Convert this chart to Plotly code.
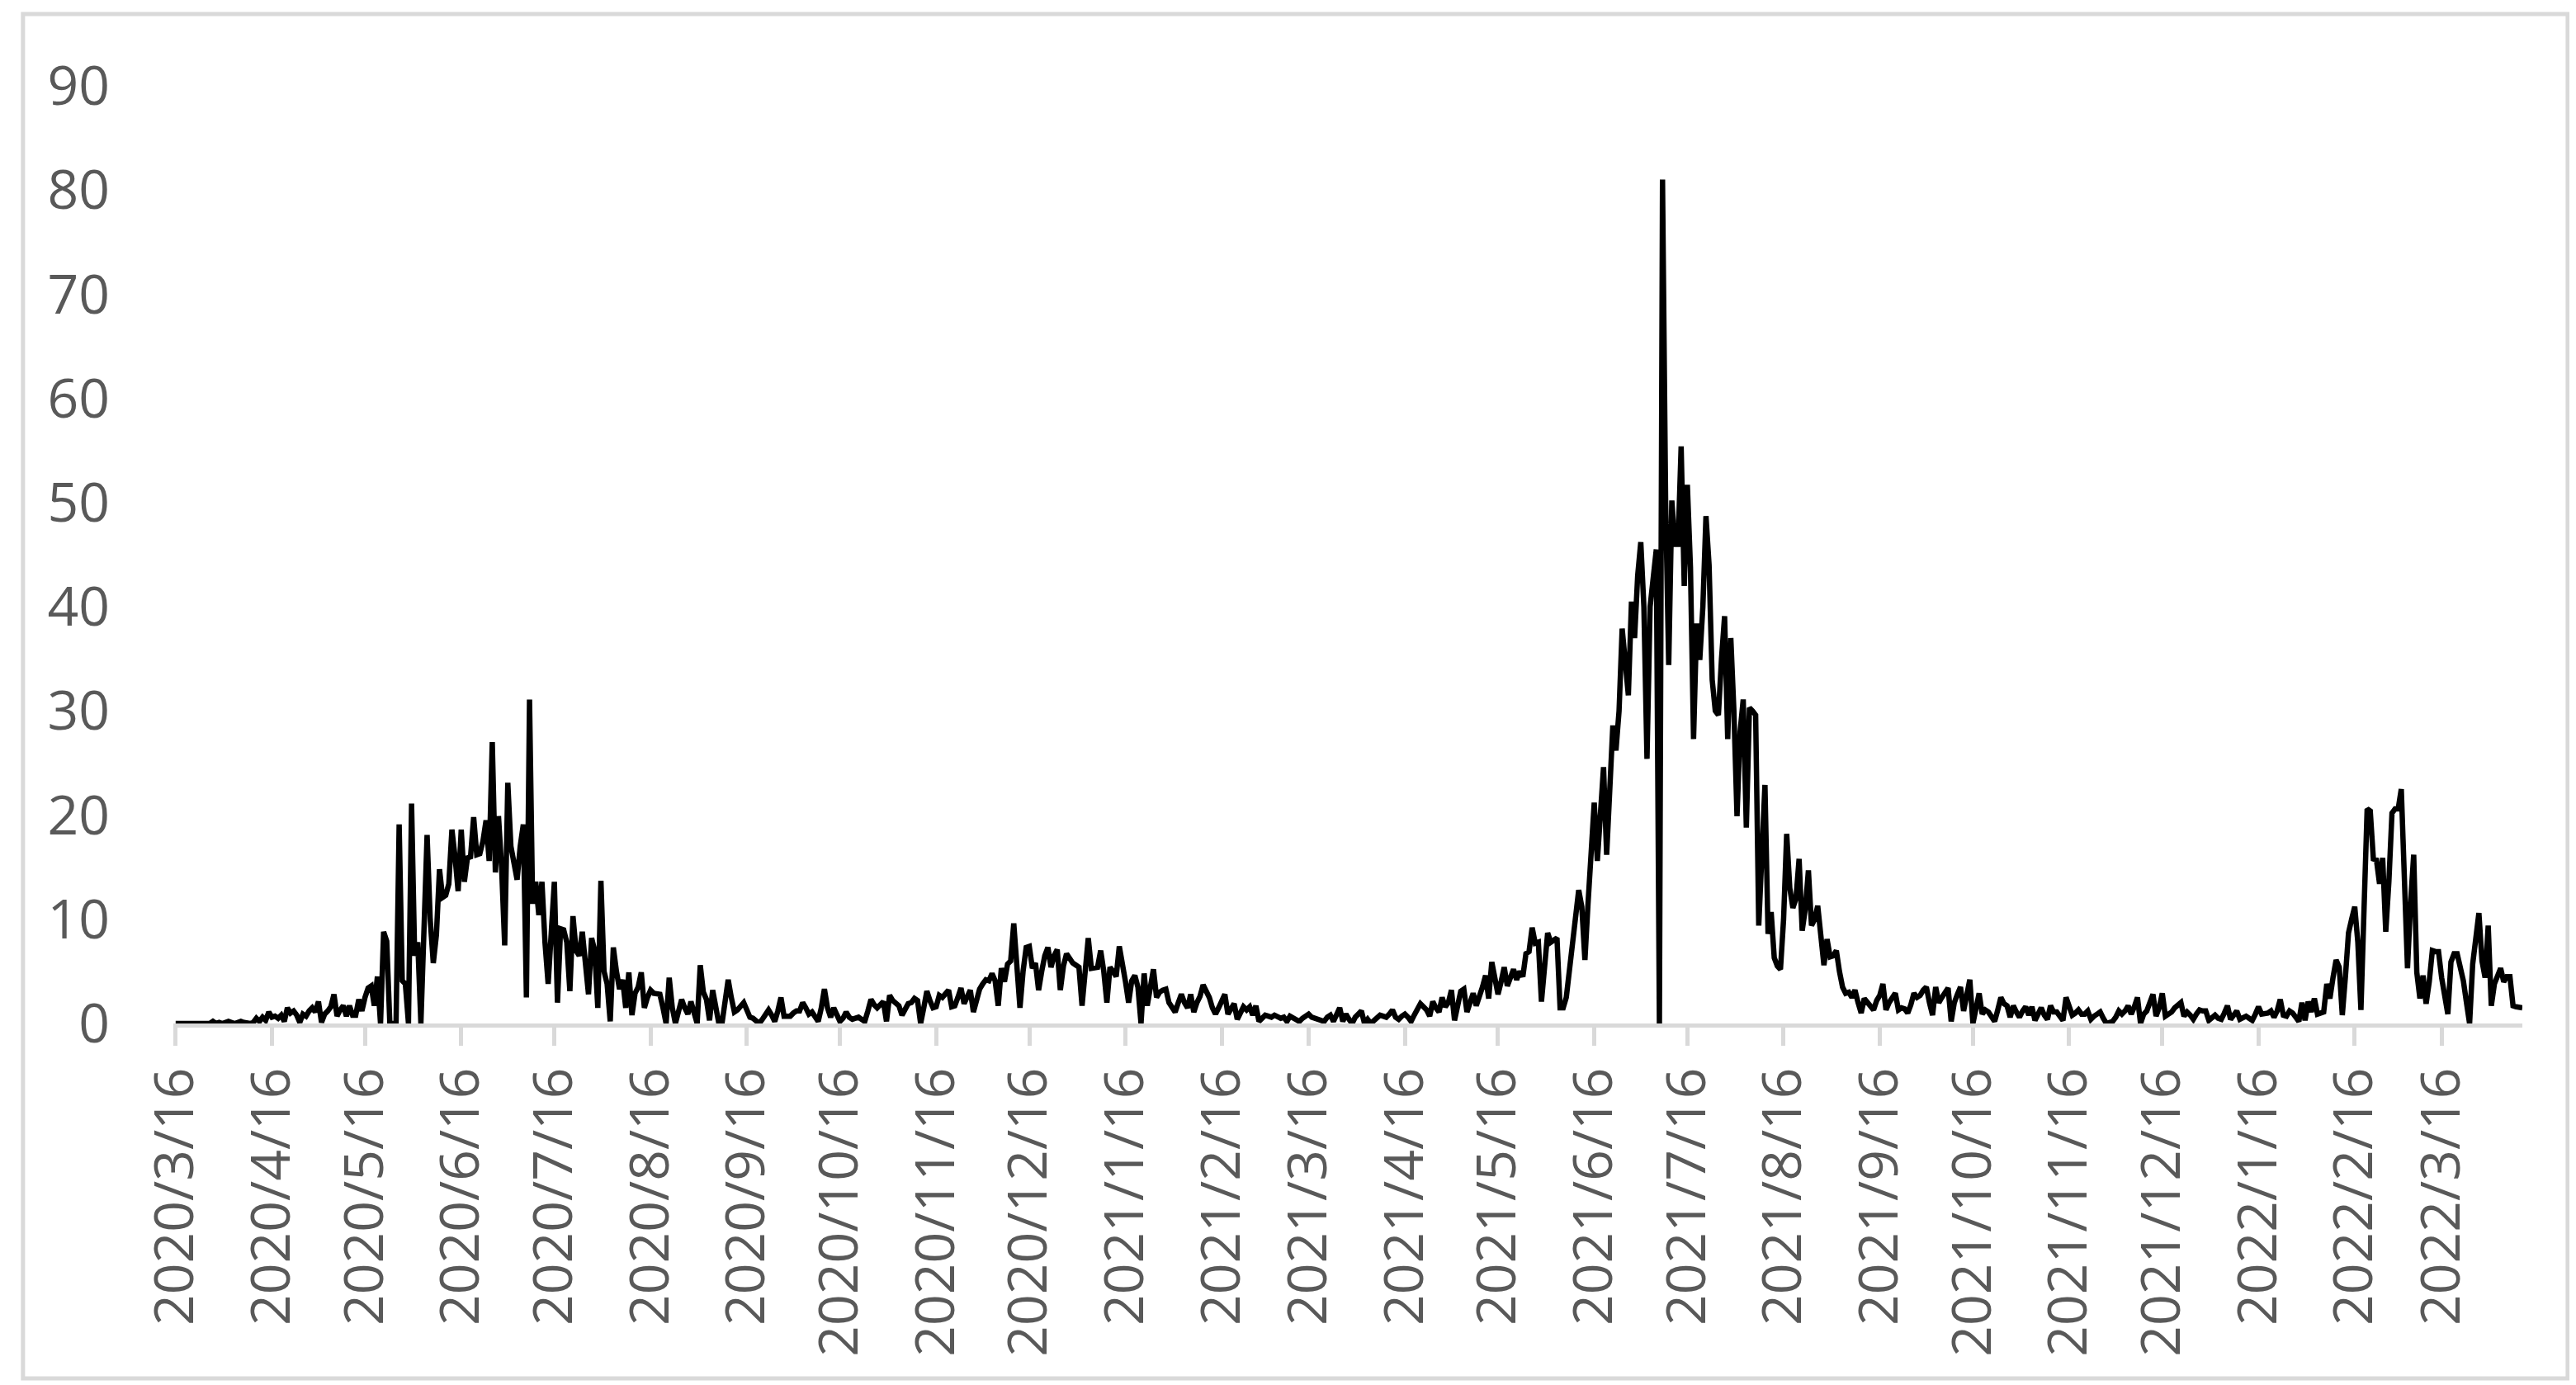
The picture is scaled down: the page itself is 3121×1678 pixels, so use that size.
import pandas as pd
import plotly.graph_objects as go

# daily series, one value per day starting 2020/3/16
START = "2020-03-16"

days_000_099 = [
    0, 0, 0, 0, 0, 0, 0, 0, 0, 0,
    0, 0, 0.2, 0, 0.1, 0, 0.1, 0.2, 0.1, 0,
    0.1, 0.2, 0.1, 0, 0, 0.1, 0.5, 0.2, 0.6, 0.3,
    1.1, 0.6, 0.7, 0.5, 0.8, 0.2, 1.5, 1.0, 1.2, 0.8,
    0.1, 0.9, 0.7, 1.2, 1.5, 1.1, 2.1, 0.1, 0.9, 1.2,
    1.6, 2.8, 0.7, 1.3, 1.7, 0.7, 1.7, 0.8, 0.8, 2.3,
    1.2, 2.5, 3.4, 3.6, 1.7, 4.5, 0, 8.8, 7.9, 0,
    0, 0, 19.1, 4.1, 3.8, 0, 21.1, 6.5, 7.8, 0,
    9, 18.1, 10, 5.8, 8.5, 14.8, 12.1, 12.3, 13.4, 18.6,
    16, 12.7, 18.6, 13.6, 15.9, 16, 19.8, 16.2, 16.3, 17.5,
]
days_100_199 = [
    19.5, 15.6, 27, 14.5, 19.9, 15, 7.5, 23.1, 17, 15.5,
    13.8, 17, 19.1, 2.5, 31.1, 11.5, 13.6, 10.4, 13.6, 7.7,
    3.8, 8.7, 13.6, 2, 9.1, 9, 7.8, 3.1, 10.3, 7,
    6.5, 8.8, 6, 2.8, 8.2, 7, 1.5, 13.7, 5, 3.8,
    0.2, 7.3, 5, 3.3, 4.2, 1.5, 4.9, 0.8, 2.9, 3.5,
    4.9, 1.5, 2.5, 3.2, 2.9, 2.9, 2.8, 1.5, 0, 4.4,
    1.5, 0, 1.2, 2.3, 1.5, 0.9, 2.1, 1.2, 0, 5.6,
    3, 2.3, 0.3, 3.2, 1.5, 0, 0, 2, 4.2, 2.5,
    1.1, 1.3, 1.6, 2, 1.3, 0.6, 0.5, 0.2, 0, 0.4,
    0.9, 1.3, 0.8, 0.2, 1.2, 2.5, 0.7, 0.7, 0.7, 1,
]
days_200_299 = [
    1.2, 1.2, 2, 1.5, 0.9, 1.1, 0.6, 0.2, 1.5, 3.3,
    1.5, 0.6, 1.5, 0.8, 0.2, 0.5, 1.1, 0.6, 0.4, 0.5,
    0.6, 0.4, 0.2, 1.2, 2.3, 1.8, 1.5, 1.8, 2.1, 0.2,
    2.7, 2.2, 1.9, 1.7, 0.8, 1.4, 1.9, 2, 2.4, 2.2,
    0, 1.5, 3.1, 2.2, 1.5, 1.6, 2.7, 2.5, 2.8, 3.2,
    1.6, 1.7, 2.5, 3.4, 1.9, 2.5, 3.2, 1.1, 2.5, 3.3,
    3.8, 4.2, 4.1, 4.8, 4.1, 1.7, 5.3, 4, 5.7, 6,
    9.6, 5.7, 1.5, 5, 7.3, 7.4, 5.3, 5.8, 3.2, 5,
    6.5, 7.3, 5.4, 6.5, 7.1, 3.2, 5.5, 6.7, 6.2, 5.8,
    5.6, 5.4, 1.7, 5, 8.2, 5.3, 5.4, 5.4, 7, 5,
]
days_300_399 = [
    2, 5.4, 5, 4.5, 7.4, 5.9, 4, 2, 4.1, 4.6,
    3.5, 0, 4.8, 1.7, 3.5, 5.2, 2.5, 3, 3.2, 3.3,
    2, 1.6, 1.1, 2, 2.8, 2, 1.5, 2.8, 1.1, 2,
    2.6, 3.7, 3.1, 2.5, 1.5, 0.9, 1.5, 2.3, 2.8, 0.9,
    1.5, 1.9, 0.4, 1, 1.6, 1.3, 1.6, 0.8, 1.7, 0.2,
    0.6, 0.8, 0.7, 0.6, 0.8, 0.7, 0.5, 0.6, 0.2, 0.7,
    0.5, 0.4, 0.2, 0.5, 0.7, 0.9, 0.6, 0.5, 0.4, 0.3,
    0.2, 0.6, 0.8, 0.2, 0.8, 1.5, 0.2, 0.9, 0.4, 0,
    0.6, 0.9, 1.2, 0, 0.4, 0, 0.3, 0.6, 0.8, 0.7,
    0.6, 0.9, 1.3, 0.6, 0.4, 0.7, 0.9, 0.6, 0.2, 0.8,
]
days_400_499 = [
    1.5, 1.9, 1.6, 1.3, 0.7, 2.1, 1.5, 1.1, 2.5, 1.6,
    2, 3.2, 0.3, 2, 3.1, 3.3, 1.1, 2, 2.9, 1.7,
    2.5, 3.5, 4.6, 2.4, 5.9, 4, 2.8, 4, 5.4, 3.6,
    4.5, 5.2, 4.2, 5, 4.5, 6.7, 6.9, 9.2, 7.7, 7.8,
    2.1, 5, 8.7, 7.8, 8, 8.2, 1.5, 1.5, 2.5, 5,
    8, 11, 12.8, 11.2, 6.1, 11.5, 16, 21.2, 15.6, 20,
    24.6, 16.2, 24, 28.6, 26.2, 30, 37.9, 35, 31.5, 40.5,
    37, 43, 46.2, 40, 25.4, 40, 43, 45.5, 0, 81,
    50, 34.4, 50.2, 46, 46, 55.4, 42, 51.7, 43.8, 27.3,
    38.4, 34.9, 40, 48.7, 44, 33, 30, 29.6, 35, 39.1,
]
days_500_599 = [
    27.3, 37, 30, 19.9, 28, 31.1, 18.8, 30.3, 30, 29.6,
    9.4, 15, 22.9, 8.6, 10.7, 6.3, 5.5, 5.2, 10, 18.2,
    13, 11.1, 12, 15.8, 8.9, 11, 14.7, 9.4, 10, 11.3,
    8, 5.6, 8.1, 6.4, 6.5, 7, 5, 3.5, 2.9, 3,
    2.5, 3.2, 2, 1, 2.4, 2, 1.8, 1.3, 2.2, 2.7,
    3.8, 1.3, 2, 2.4, 2.9, 1.3, 1.5, 1.4, 1, 1.8,
    2.9, 2.5, 2.7, 3.2, 3.5, 2, 0.8, 3.5, 2, 2.5,
    2.9, 3.4, 0.2, 2, 2.8, 3.5, 1.2, 2.5, 4.2, 0,
    1.5, 2.9, 0.9, 1.3, 1.1, 0.6, 0.2, 1.3, 2.5, 1.9,
    1.7, 0.6, 1.7, 1.1, 0.6, 1.2, 1.6, 0.8, 1.6, 0.3,
]
days_600_756 = [
    1, 1.5, 0.8, 0.4, 1.7, 1.1, 1.1, 0.6, 0.3, 2.5,
    1.5, 0.8, 1, 1.3, 0.9, 0.9, 1.2, 0.4, 0.7, 0.9,
    1.1, 0.5, 0, 0.1, 0.2, 0.6, 1.2, 0.9, 1.2, 1.7,
    0.9, 1.6, 2.5, 0, 0.9, 1.2, 2, 2.8, 0.7, 1.5,
    2.9, 0.7, 0.9, 1.1, 1.5, 1.7, 2, 0.7, 1.1, 0.8,
    0.4, 0.9, 1.3, 1.2, 1.2, 0.3, 0.6, 0.8, 0.5, 0.4,
    1, 1.7, 0.4, 0.8, 1.2, 0.4, 0.5, 0.7, 0.5, 0.3,
    0.9, 1.6, 0.9, 0.9, 1, 1.2, 0.6, 1.2, 2.3, 0.8,
    0.7, 1.2, 1, 0.6, 0.2, 2, 0.3, 2.1, 1.1, 2.4,
    0.9, 1, 1.1, 3.8, 2.4, 4.4, 6.1, 5.4, 0.8, 4.5,
    8.7, 10, 11.2, 7.8, 1.3, 11, 20.6, 20.4, 15.8, 15.7,
    13.4, 15.9, 8.8, 13.6, 20.2, 20.6, 20.6, 22.5, 11.7, 5.3,
    11.6, 16.2, 4.9, 2.4, 4.6, 1.9, 4, 7, 6.9, 6.9,
    4.4, 2.5, 0.9, 5.9, 6.7, 6.7, 5.5, 4.1, 2, 0,
    5.7, 8, 10.6, 6, 4.4, 9.4, 1.7, 3.8, 4.5, 5.3,
    4, 4.5, 4.5, 1.7, 1.6, 1.5, 1.5,
]

tick_labels = [
    "2020/3/16", "2020/4/16", "2020/5/16", "2020/6/16", "2020/7/16",
    "2020/8/16", "2020/9/16", "2020/10/16", "2020/11/16", "2020/12/16",
    "2021/1/16", "2021/2/16", "2021/3/16", "2021/4/16", "2021/5/16",
    "2021/6/16", "2021/7/16", "2021/8/16", "2021/9/16", "2021/10/16",
    "2021/11/16", "2021/12/16", "2022/1/16", "2022/2/16", "2022/3/16",
]
y_ticks = [0, 10, 20, 30, 40, 50, 60, 70, 80, 90]

values = (days_000_099 + days_100_199 + days_200_299 + days_300_399
          + days_400_499 + days_500_599 + days_600_756)
dates = pd.date_range(START, periods=len(values), freq="D")
tick_vals = pd.to_datetime(tick_labels, format="%Y/%m/%d")

GREY_LINE = "#D9D9D9"
GREY_TEXT = "#595959"
FONT = "Open Sans, Noto Sans, sans-serif"

fig = go.Figure(go.Scatter(
    x=dates,
    y=values,
    mode="lines",
    line=dict(color="#000000", width=6.5),
    hoverinfo="x+y",
))

fig.update_layout(
    width=3121,
    height=1678,
    margin=dict(l=202, r=73, t=96, b=446, autoexpand=False),
    plot_bgcolor="#FFFFFF",
    paper_bgcolor="#FFFFFF",
    showlegend=False,
    font=dict(family=FONT, size=66, color=GREY_TEXT),
)
fig.update_xaxes(
    type="date",
    range=[dates[0] - pd.Timedelta(hours=18), dates[-1]],
    tickmode="array",
    tickvals=tick_vals,
    ticktext=tick_labels,
    tickangle=-90,
    ticks="outside",
    ticklen=22,
    tickwidth=5,
    tickcolor=GREY_LINE,
    ticklabelstandoff=0,
    showline=True,
    linecolor=GREY_LINE,
    linewidth=5,
    showgrid=False,
    zeroline=False,
    tickfont=dict(family=FONT, size=66, color=GREY_TEXT),
)
fig.update_yaxes(
    range=[0, 90],
    tickmode="array",
    tickvals=y_ticks,
    ticks="",
    showline=False,
    showgrid=False,
    zeroline=False,
    ticklabelstandoff=76,
    tickfont=dict(family=FONT, size=66, color=GREY_TEXT),
)

# chart-area border
fig.add_shape(
    type="rect", xref="paper", yref="paper",
    x0=-0.0640, x1=1.0193, y0=-0.3785, y1=1.0766,
    line=dict(color=GREY_LINE, width=5),
    fillcolor="rgba(0,0,0,0)",
    layer="below",
)

fig.write_html("out.html")
